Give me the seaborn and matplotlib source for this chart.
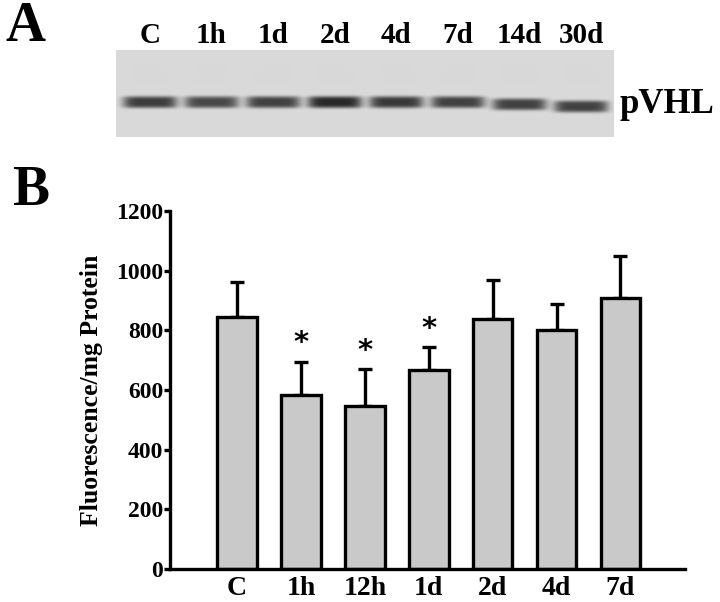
import numpy as np
import matplotlib
matplotlib.use("Agg")
import matplotlib.pyplot as plt
import seaborn as sns

# ---------------- data ----------------
groups = ["C", "1h", "12h", "1d", "2d", "4d", "7d"]
means = [846, 583, 545, 667, 837, 800, 909]
sem_up = [117, 112, 125, 78, 132, 87, 140]
significant = [False, True, True, True, False, False, False]
y_ticks = [0, 200, 400, 600, 800, 1000, 1200]

blot_lanes = ["C", "1h", "1d", "2d", "4d", "7d", "14d", "30d"]
band_density = [0.62, 0.57, 0.60, 0.70, 0.63, 0.60, 0.60, 0.60]

# ---------------- style ----------------
sns.set_theme(style="ticks")
plt.rcParams["font.family"] = ["Liberation Serif", "DejaVu Serif"]
plt.rcParams["font.weight"] = "bold"
plt.rcParams["axes.labelweight"] = "bold"
for k in ["text.color", "axes.labelcolor", "xtick.color", "ytick.color",
          "axes.edgecolor"]:
    plt.rcParams[k] = "black"

fig = plt.figure(figsize=(7.2, 6.02), dpi=100)
W, H = 720.0, 602.0

# ---------------- panel A: blot ----------------
axA = fig.add_axes([116 / W, 1 - 137 / H, (614 - 116) / W, 87 / H])
n = len(blot_lanes)
x0, x1 = -0.55, n - 0.47
nx, ny = 996, 174
xs = np.linspace(x0, x1, nx)
ys = np.linspace(1, 0, ny)
X, Y = np.meshgrid(xs, ys)
img = np.full_like(X, 0.855)
for i, d in enumerate(band_density):
    yc = 0.40 - 0.05 * max(0, i - 5) / 2
    band = np.exp(-(((X - i) / 0.44) ** 6 + ((Y - yc) / 0.068) ** 4))
    img -= d * band
    smear = np.exp(-(((X - i) / 0.40) ** 4 + ((Y - 0.72) / 0.22) ** 2))
    img -= 0.01 * smear
axA.imshow(img, cmap="gray", vmin=0, vmax=1, extent=(x0, x1, 0, 1),
           aspect="auto", interpolation="bilinear")
axA.set_xlim(x0, x1)
axA.set_ylim(0, 1)
axA.xaxis.tick_top()
axA.set_xticks(range(n))
axA.set_xticklabels(blot_lanes, fontsize=21, fontweight="bold")
axA.tick_params(axis="x", length=0, pad=1)
axA.set_yticks([])
for s in axA.spines.values():
    s.set_visible(False)
axA.text(1.012, 0.276, "pVHL", transform=axA.transAxes, fontsize=25,
         fontweight="bold", va="baseline", ha="left")

# ---------------- panel B: bars ----------------
axB = fig.add_axes([170 / W, 1 - 569 / H, 515 / W, 358 / H])
sns.barplot(x=groups, y=means, color="#c9c9c9", saturation=1,
            edgecolor="black", linewidth=2.4, width=0.62, ax=axB)
bx = [p.get_x() + p.get_width() / 2 for p in axB.patches]
axB.errorbar(bx, means, yerr=[np.zeros(len(means)), sem_up], fmt="none",
             ecolor="black", elinewidth=2.4, capsize=5, capthick=2.4, zorder=0.5)
for x, m, e, sig in zip(bx, means, sem_up, significant):
    if sig:
        axB.annotate("*", (x, m + e), xytext=(0, 3), textcoords="offset points",
                     ha="center", va="bottom", fontsize=21, fontweight="bold",
                     family="DejaVu Sans")
axB.set_ylim(0, 1200)
axB.set_xlim(-1.05, 7.01)
axB.set_yticks(y_ticks)
axB.set_yticklabels([str(v) for v in y_ticks], fontsize=17, fontweight="bold")
axB.tick_params(axis="y", length=4, width=2.4, pad=1)
axB.tick_params(axis="x", length=0, pad=5, labelsize=20)
for lab in axB.get_xticklabels():
    lab.set_fontweight("bold")
sns.despine(ax=axB)
for s in ["left", "bottom"]:
    axB.spines[s].set_linewidth(2.4)
axB.set_ylabel("Fluorescence/mg Protein", fontsize=18.5, fontweight="bold")
axB.yaxis.set_label_coords(-0.13, 0.5)
axB.set_xlabel("")

fig.text(5 / W, 1 - 41 / H, "A", fontsize=40, fontweight="bold", va="baseline")
fig.text(12 / W, 1 - 205 / H, "B", fontsize=40, fontweight="bold", va="baseline")

fig.savefig("out.png", dpi=100, facecolor="white")
